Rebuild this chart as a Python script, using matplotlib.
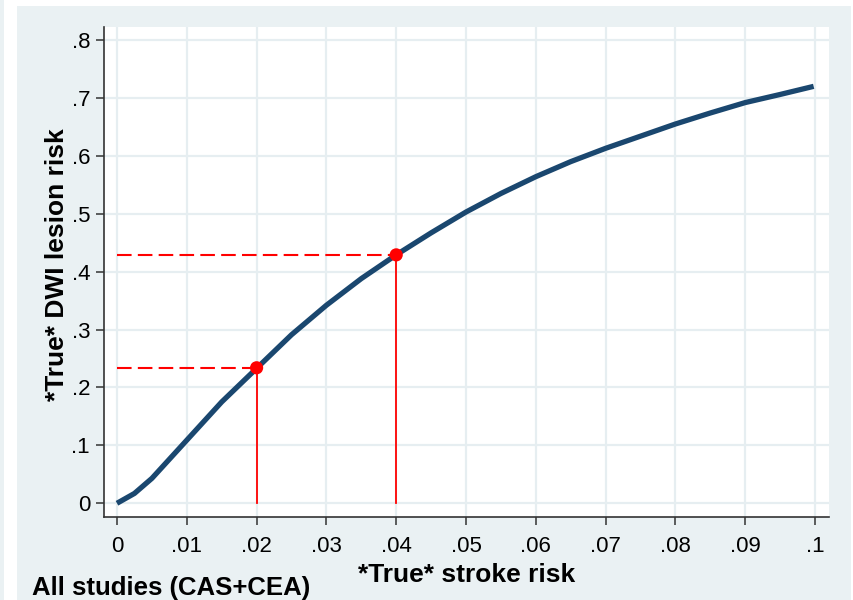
import matplotlib.pyplot as plt
import matplotlib as mpl
from matplotlib.patches import Rectangle

mpl.rcParams["font.family"] = ["Liberation Sans", "DejaVu Sans"]

# curve: *True* stroke risk vs *True* DWI lesion risk
stroke_risk = [0.0, 0.0025, 0.005, 0.01, 0.015, 0.02, 0.025, 0.03, 0.035, 0.04, 0.045,
               0.05, 0.055, 0.06, 0.065, 0.07, 0.075, 0.08, 0.085, 0.09, 0.095, 0.0998]
dwi_risk = [0.0, 0.017, 0.043, 0.109, 0.175, 0.233, 0.291, 0.342, 0.388, 0.429, 0.467,
            0.503, 0.535, 0.564, 0.590, 0.613, 0.634, 0.655, 0.674, 0.692, 0.706, 0.720]

# highlighted points
mark_x = [0.02, 0.04]
mark_y = [0.234, 0.429]

xticks = [0, 0.01, 0.02, 0.03, 0.04, 0.05, 0.06, 0.07, 0.08, 0.09, 0.1]
xlabels = ["0", ".01", ".02", ".03", ".04", ".05", ".06", ".07", ".08", ".09", ".1"]
yticks = [0, 0.1, 0.2, 0.3, 0.4, 0.5, 0.6, 0.7, 0.8]
ylabels = ["0", ".1", ".2", ".3", ".4", ".5", ".6", ".7", ".8"]

bg = "#EAF1F3"
grid_c = "#E6EEF1"
navy = "#1A476F"

fig = plt.figure(figsize=(8.54, 6.0), dpi=100, facecolor="white")
W, H = 854, 600
# stata-style graph region, kept behind the axes
fig.patches.append(Rectangle((17 / W, 0), (851 - 17) / W, 594 / H,
                             transform=fig.transFigure, facecolor=bg, edgecolor="none", zorder=-5))
fig.patches.append(Rectangle((0, 0), 4 / W, 1, transform=fig.transFigure,
                             facecolor=bg, edgecolor="none", zorder=-5))

ax = fig.add_axes([104 / W, 1 - 517 / H, 725 / W, 490 / H])
ax.set_zorder(1)
ax.set_facecolor("white")
ax.set_xlim(-0.00186, 0.102)
ax.set_ylim(-0.0237, 0.8225)

for t in xticks:
    ax.axvline(t, color=grid_c, lw=1.6, zorder=1)
for t in yticks:
    ax.axhline(t, color=grid_c, lw=1.6, zorder=1)

ax.plot(stroke_risk, dwi_risk, color=navy, lw=3.8, solid_capstyle="butt",
        solid_joinstyle="round", zorder=3)

for x, y in zip(mark_x, mark_y):
    ax.plot([x, x], [0, y], color="red", lw=1.3, zorder=2)
    ax.plot([0, x], [y, y], color="red", lw=1.5, linestyle=(0, (7, 3)), zorder=2)
ax.scatter(mark_x, mark_y, s=90, color="red", edgecolors="none", zorder=4)

for s in ["top", "right"]:
    ax.spines[s].set_visible(False)
for s in ["left", "bottom"]:
    ax.spines[s].set_color("#333333")
    ax.spines[s].set_linewidth(1.2)

ax.set_xticks(xticks)
ax.set_xticklabels(xlabels)
ax.set_yticks(yticks)
ax.set_yticklabels(ylabels)
ax.tick_params(axis="both", direction="out", length=6, width=1.1, color="#333333",
               labelsize=16, labelcolor="black")
ax.tick_params(axis="x", pad=8)
ax.tick_params(axis="y", pad=4)

fig.text(467 / W, 1 - 575 / H, "*True* stroke risk", ha="center", va="center",
         fontsize=19, fontweight="bold")
fig.text(57 / W, 1 - 265 / H, "*True* DWI lesion risk", ha="center", va="center",
         rotation=90, fontsize=19, fontweight="bold")
fig.text(32 / W, 1 - 595 / H, "All studies (CAS+CEA)", ha="left", va="baseline",
         fontsize=18.5, fontweight="bold")

fig.savefig("out.png", dpi=100, facecolor=fig.get_facecolor())
